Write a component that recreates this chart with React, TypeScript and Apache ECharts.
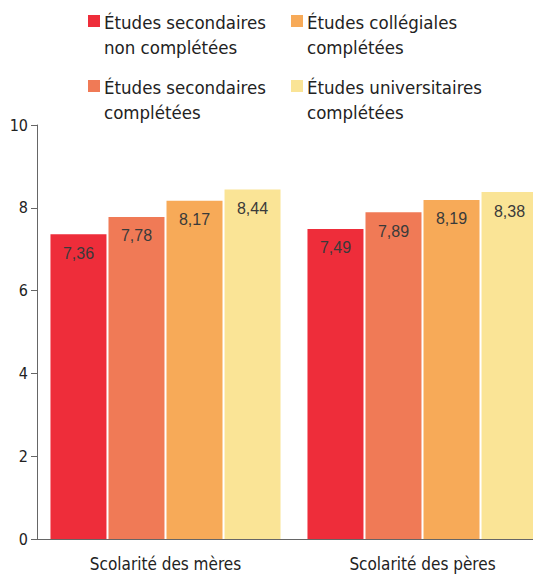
import React, { useEffect, useRef } from "react";
import * as echarts from "echarts";

const categories = ["Scolarité des mères", "Scolarité des pères"];
const seriesNames = [
  "Études secondaires\nnon complétées",
  "Études secondaires\ncomplétées",
  "Études collégiales\ncomplétées",
  "Études universitaires\ncomplétées",
];
const seriesColors = ["#EE2D3A", "#F07A56", "#F7AA58", "#FAE496"];
const nonCompletees = [7.36, 7.49];
const secondairesCompletees = [7.78, 7.89];
const collegialesCompletees = [8.17, 8.19];
const universitairesCompletees = [8.44, 8.38];
const seriesValues = [nonCompletees, secondairesCompletees, collegialesCompletees, universitairesCompletees];

const condensed = "'Liberation Sans Narrow', 'DejaVu Sans Condensed', 'Roboto', sans-serif";

export default function App() {
  const ref = useRef<HTMLDivElement>(null);

  useEffect(() => {
    if (!ref.current) return;
    const chart = echarts.init(ref.current, null, { renderer: "svg" });

    // legend: 2x2 grid of swatch + two-line caption
    const legendPos = [
      [88, 15],
      [88, 80],
      [291, 15],
      [291, 80],
    ];
    const legendGraphics = seriesNames.map((name, i) => ({
      type: "group",
      x: legendPos[i][0],
      y: legendPos[i][1],
      children: [
        { type: "rect", shape: { x: 0, y: 0, width: 12, height: 12 }, style: { fill: seriesColors[i] } },
        {
          type: "text",
          x: 16,
          y: -5,
          style: {
            text: name,
            font: `18.5px ${condensed}`,
            fill: "#222",
            lineHeight: 25,
          },
        },
      ],
    }));

    chart.setOption({
      animation: false,
      backgroundColor: "#ffffff",
      grid: { left: 37, top: 125, width: 514, height: 414, containLabel: false },
      graphic: legendGraphics,
      xAxis: {
        type: "category",
        data: categories,
        axisLine: { lineStyle: { color: "#666", width: 1 } },
        axisTick: { show: false },
        axisLabel: {
          color: "#222",
          fontFamily: condensed,
          fontSize: 17,
          margin: 16,
        },
      },
      yAxis: {
        type: "value",
        min: 0,
        max: 10,
        interval: 2,
        splitLine: { show: false },
        axisLine: { show: true, lineStyle: { color: "#666", width: 1 } },
        axisTick: { show: true, length: 6, lineStyle: { color: "#666" } },
        axisLabel: { color: "#222", fontFamily: condensed, fontSize: 16, margin: 9 },
      },
      series: seriesValues.map((vals, i) => ({
        type: "bar",
        name: seriesNames[i],
        data: vals,
        barWidth: 56,
        barGap: "3.6%",
        itemStyle: { color: seriesColors[i] },
        label: {
          show: true,
          position: "insideTop",
          distance: 11,
          formatter: (p: any) => p.value.toFixed(2).replace(".", ","),
          color: "#3a3a3a",
          fontFamily: "'Liberation Sans', Arial, sans-serif",
          fontSize: 16,
        },
      })),
    });

    return () => chart.dispose();
  }, []);

  return (
    <div style={{ position: "fixed", left: 0, top: 0, width: 533, height: 576, overflow: "hidden" }}>
      <div ref={ref} style={{ width: 560, height: 576 }} />
    </div>
  );
}
